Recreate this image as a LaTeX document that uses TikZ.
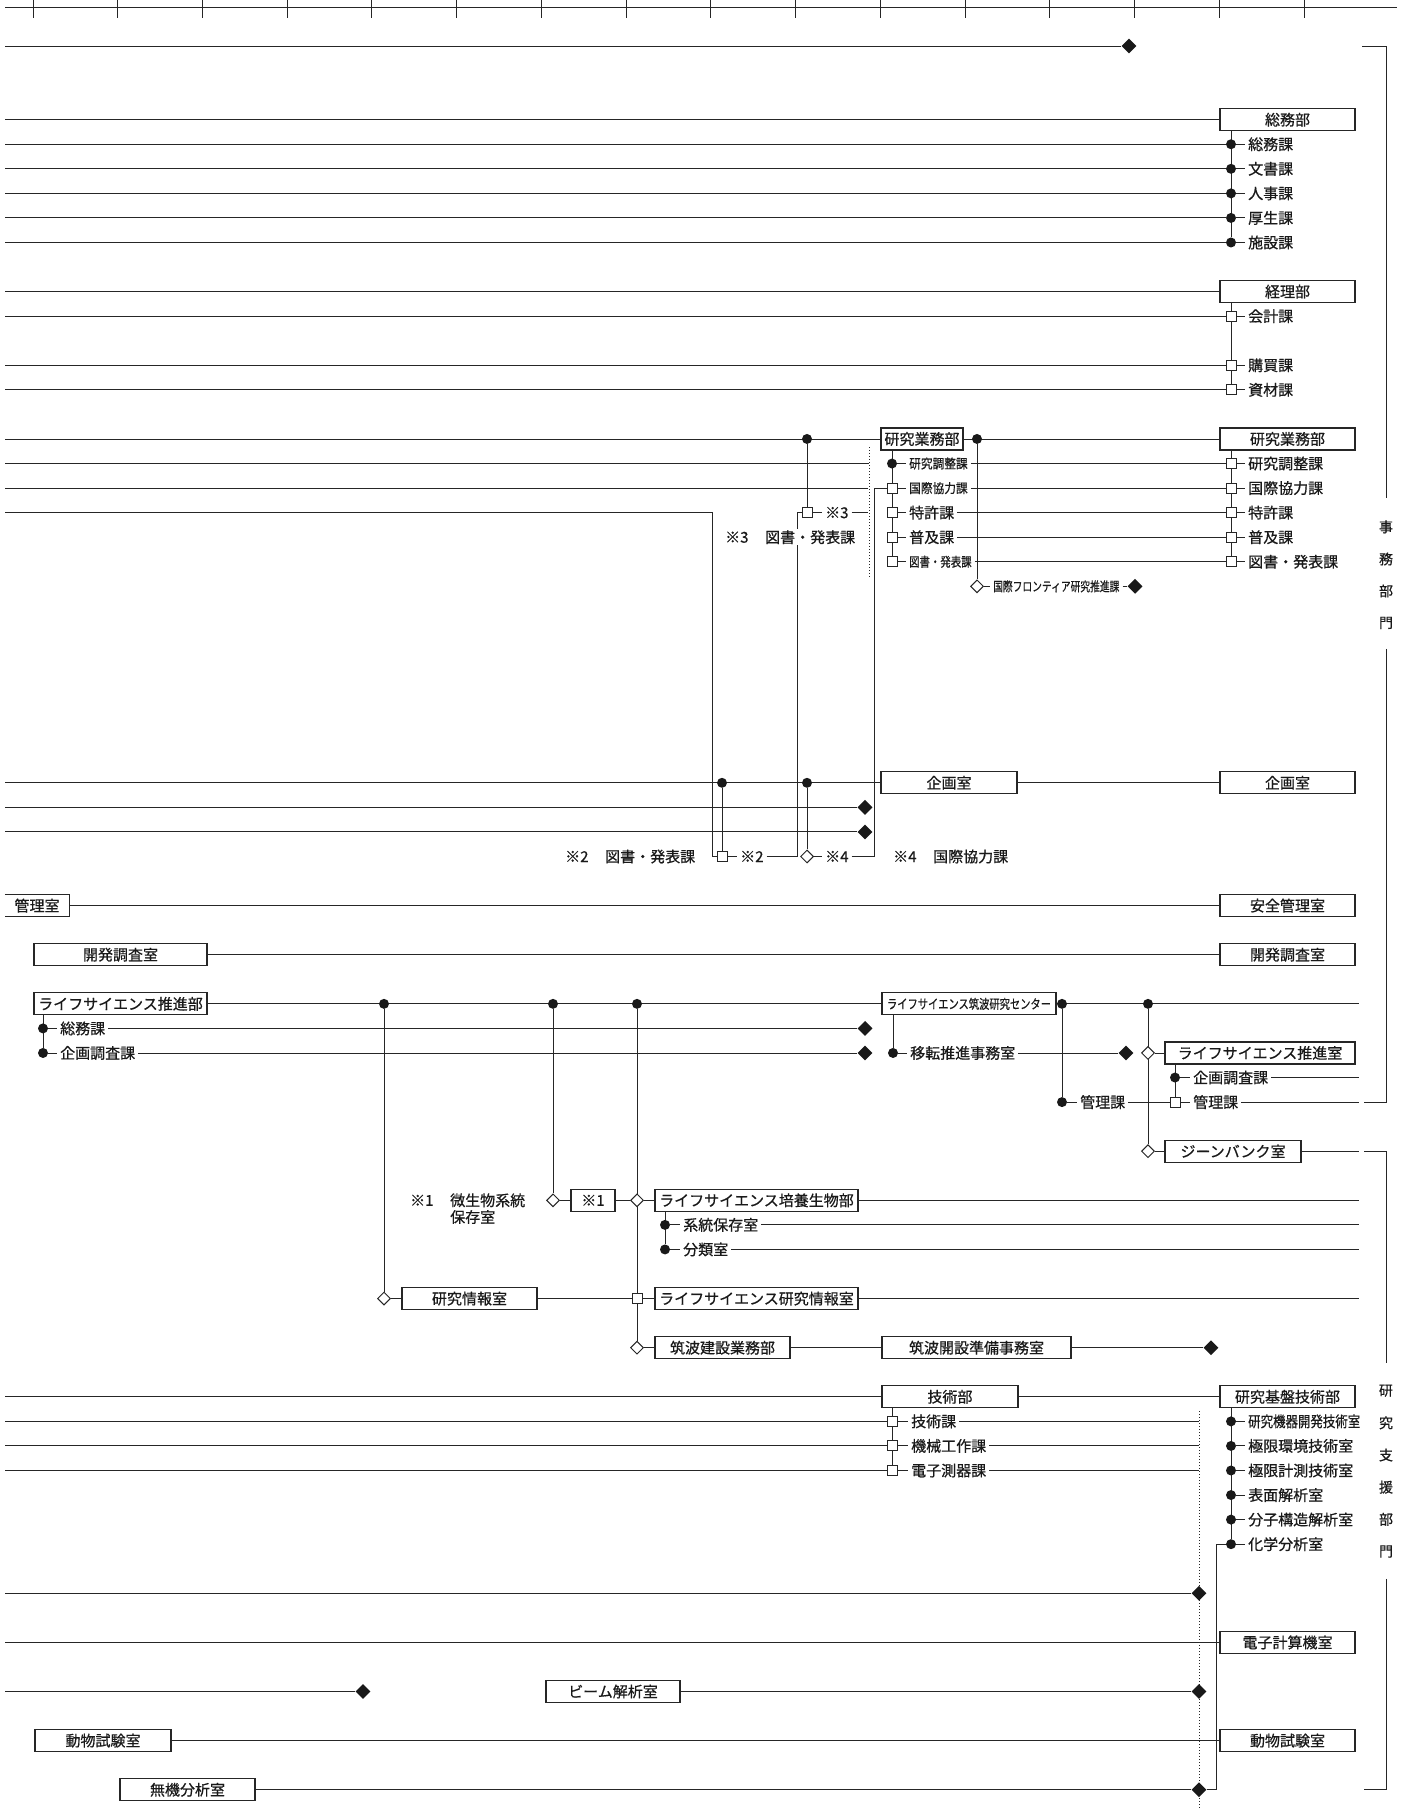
\documentclass[tikz,border=0pt]{standalone}
\usepackage{fontspec}
\setmainfont{Noto Sans CJK JP}[FakeBold=0.6]
\usepackage{graphicx}
\usetikzlibrary{shapes.geometric,backgrounds}
\newcommand{\sx}[2]{\scalebox{#1}[1]{#2}}
\newcommand{\myfont}{\fontsize{15}{18}\selectfont}
\newcommand{\mysmall}{\fontsize{13}{15}\selectfont}
\begin{document}
\begin{tikzpicture}[x=1pt,y=-24.56pt,
  ln/.style={line width=0.9pt, draw=black!85},
  bxl/.style={line width=1.2pt, draw=black!85},
  bx/.style={draw=black!85, line width=1.2pt, minimum height=22pt, inner sep=0pt, font=\myfont, text=black!90},
  rb/.style={bx, minimum width=135pt},
  lb/.style={anchor=west, inner sep=3pt, font=\myfont, text=black!90},
  sm/.style={anchor=west, inner sep=3pt, font=\mysmall, text=black!90},
  txt/.style={anchor=west, inner sep=0pt, font=\myfont, text=black!90},
  dotm/.style={circle, fill=black!90, inner sep=0pt, minimum size=10pt},
  jn/.style={circle, fill=black!90, inner sep=0pt, minimum size=10pt},
  sqm/.style={rectangle, draw=black!85, line width=1pt, fill=white, inner sep=0pt, minimum size=10pt},
  odm/.style={diamond, draw=black!85, line width=1pt, fill=white, inner sep=0pt, minimum size=13pt},
  fdm/.style={diamond, fill=black!90, inner sep=0pt, minimum width=15pt, minimum height=15pt},
  vt/.style={inner sep=0pt, font=\fontsize{14}{16}\selectfont, text=black!90},
  dts/.style={line width=0.9pt, draw=black!85, dash pattern=on 1.2pt off 1.8pt},
]
\useasboundingbox (0,-1.873) rectangle (1405,71.824);

% left edge coordinates
\foreach \k in {0,3,4,5,6,7,8,10,11,13,14,16,17,18,19,30,31,32,55,56,57,58,63,65,67}
  \coordinate (L\k) at (5,\k);
% right ends
\foreach \k in {39,42,43,45,47,48,49,51}
  \coordinate (E\k) at (1359,\k);

% row 0
\node[fdm] (d0) at (1129,0) {};

% right column
\node[rb] (somubu) at (1287.5,3) {総務部};
\foreach \k/\t in {4/総務課,5/文書課,6/人事課,7/厚生課,8/施設課}
  {\node[dotm] (R\k) at (1231,\k) {}; \node[lb] (RT\k) at (1245,\k) {\t};}
\node[rb] (keiri) at (1287.5,10) {経理部};
\foreach \k/\t in {11/会計課,13/購買課,14/資材課}
  {\node[sqm] (R\k) at (1231,\k) {}; \node[lb] (RT\k) at (1245,\k) {\t};}
\node[rb] (kg2) at (1287.5,16) {研究業務部};
\foreach \k/\t in {17/研究調整課,18/国際協力課,19/特許課,20/普及課,21/図書・発表課}
  {\node[sqm] (R\k) at (1231,\k) {}; \node[lb] (RT\k) at (1245,\k) {\t};}

% left research affairs group
\node[bx, minimum width=82pt] (kg1) at (922,16) {研究業務部};
\node[jn] (j807a) at (807,16) {};
\node[jn] (j977) at (977,16) {};
\node[dotm] (M17) at (892,17) {};
\node[sm] (MT17) at (906,17) {\sx{0.9}{研究調整課}};
\node[sqm] (M18) at (892,18) {};
\node[sm] (MT18) at (906,18) {\sx{0.9}{国際協力課}};
\node[sqm] (M19) at (892,19) {};
\node[lb] (MT19) at (906,19) {特許課};
\node[sqm] (M20) at (892,20) {};
\node[lb] (MT20) at (906,20) {普及課};
\node[sqm] (M21) at (892,21) {};
\node[sm] (MT21) at (906,21) {\sx{0.8}{図書・発表課}};
\coordinate (D17) at (869,17);
\coordinate (D18) at (868,18);
\node[sqm] (s3) at (807,19) {};
\node[lb] (s3l) at (822,19) {※3};
\coordinate (D19) at (868,19);
\node[txt] (n3a) at (725,20) {※3};
\node[txt, fill=white, inner sep=1pt] (n3b) at (764,20) {図書・発表課};
\node[odm] (o22) at (977,22) {};
\node[sm] (t22) at (990,22) {\sx{0.75}{国際フロンティア研究推進課}};
\node[fdm] (f22) at (1135,22) {};

% planning
\node[bx, minimum width=136pt] (kk1) at (949,30) {企画室};
\node[rb] (kk2) at (1287.5,30) {企画室};
\node[jn] (j722) at (722,30) {};
\node[jn] (j807b) at (807,30) {};
\node[fdm] (f31) at (865,31) {};
\node[fdm] (f32) at (865,32) {};
\node[txt] (n2a) at (565,33) {※2};
\node[txt] (n2b) at (605,33) {図書・発表課};
\node[sqm] (s2) at (722,33) {};
\node[lb] (s2l) at (737,33) {※2};
\node[odm] (o4) at (807,33) {};
\node[lb] (o4l) at (822,33) {※4};
\node[txt] (n4a) at (893,33) {※4};
\node[txt] (n4b) at (933,33) {国際協力課};
\coordinate (c712) at (712,33);
\coordinate (c797) at (797,19);
\coordinate (c874) at (874,18);

% rows 35-37
\node[inner sep=0pt, minimum width=64pt, minimum height=22pt, font=\myfont, text=black!90] (kanri) at (37,35) {管理室};
\node[rb] (anzen) at (1287.5,35) {安全管理室};
\node[bx, minimum width=173pt] (kh1) at (120.5,37) {開発調査室};
\node[rb] (kh2) at (1287.5,37) {開発調査室};

% life science
\node[bx, minimum width=173pt] (lsb) at (120.5,39) {ライフサイエンス推進部};
\node[jn] (j384) at (384,39) {};
\node[jn] (j553) at (553,39) {};
\node[jn] (j637) at (637,39) {};
\node[bx, minimum width=174pt, font=\mysmall] (lst) at (969,39) {\sx{0.79}{ライフサイエンス筑波研究センター}};
\node[jn] (j1062) at (1062,39) {};
\node[jn] (j1148) at (1148,39) {};
\node[dotm] (a40) at (43,40) {};
\node[lb] (at40) at (57,40) {総務課};
\node[fdm] (f40) at (865,40) {};
\node[dotm] (a41) at (43,41) {};
\node[lb] (at41) at (57,41) {企画調査課};
\node[fdm] (f41) at (865,41) {};
\node[dotm] (b41) at (893,41) {};
\node[lb] (bt41) at (907,41) {移転推進事務室};
\node[fdm] (f41b) at (1126,41) {};
\node[odm] (o41) at (1148,41) {};
\node[bx, minimum width=190pt] (lss) at (1260,41) {ライフサイエンス推進室};
\node[dotm] (c42) at (1175,42) {};
\node[lb] (ct42) at (1190,42) {企画調査課};
\node[dotm] (k43) at (1062,43) {};
\node[lb] (kt43) at (1077,43) {管理課};
\node[sqm] (c43) at (1175,43) {};
\node[lb] (ct43) at (1190,43) {管理課};
\node[odm] (o45) at (1148,45) {};
\node[bx, minimum width=136pt] (gene) at (1233,45) {ジーンバンク室};

\node[txt] (x1a) at (410,47) {※1};
\node[txt] (x1b) at (450,47) {微生物系統};
\node[txt] (x1c) at (450,47.68) {保存室};
\node[odm] (o553) at (553,47) {};
\node[bx, minimum width=44pt] (x1box) at (593,47) {※1};
\node[odm] (o637) at (637,47) {};
\node[bx, minimum width=203pt] (lsbai) at (756.5,47) {ライフサイエンス培養生物部};
\node[dotm] (g48) at (665,48) {};
\node[lb] (gt48) at (680,48) {系統保存室};
\node[dotm] (g49) at (665,49) {};
\node[lb] (gt49) at (680,49) {分類室};
\node[odm] (o384) at (384,51) {};
\node[bx, minimum width=135pt] (kjh) at (469.5,51) {研究情報室};
\node[sqm] (s637) at (637,51) {};
\node[bx, minimum width=203pt] (lskj) at (756.5,51) {ライフサイエンス研究情報室};
\node[odm] (o53) at (637,53) {};
\node[bx, minimum width=135pt] (tkg) at (722.5,53) {筑波建設業務部};
\node[bx, minimum width=189pt] (tkj) at (976.5,53) {筑波開設準備事務室};
\node[fdm] (f53) at (1211,53) {};

% technology
\node[bx, minimum width=136pt] (gjb) at (950,55) {技術部};
\node[rb] (kkb) at (1287.5,55) {研究基盤技術部};
\foreach \k/\t in {56/技術課,57/機械工作課,58/電子測器課}
  {\node[sqm] (Q\k) at (892,\k) {}; \node[lb] (QT\k) at (908,\k) {\t}; \coordinate (D\k) at (1199,\k);}
\node[dotm] (R56) at (1231,56) {};
\node[lb] (RT56) at (1245,56) {\sx{0.83}{研究機器開発技術室}};
\foreach \k/\t in {57/極限環境技術室,58/極限計測技術室,59/表面解析室,60/分子構造解析室,61/化学分析室}
  {\node[dotm] (R\k) at (1231,\k) {}; \node[lb] (RT\k) at (1245,\k) {\t};}
\node[fdm] (f63) at (1199,63) {};
\node[rb] (dk) at (1287.5,65) {電子計算機室};
\node[fdm] (f67a) at (363,67) {};
\node[bx, minimum width=134pt] (beam) at (613,67) {ビーム解析室};
\node[fdm] (f67) at (1199,67) {};
\node[bx, minimum width=136pt] (db1) at (103,69) {動物試験室};
\node[rb] (db2) at (1287.5,69) {動物試験室};
\node[bx, minimum width=135pt] (muki) at (187.5,71) {無機分析室};
\node[fdm] (f71) at (1199,71) {};
\coordinate (c1216) at (1216,71);

% bracket texts
\foreach \c/\y [count=\i] in {事/19.58,務/20.89,部/22.19,門/23.49}
  \node[vt] (VA\i) at (1386,\y) {\c};
\foreach \c/\y [count=\i] in {研/54.75,究/56.06,支/57.37,援/58.68,部/59.99,門/61.30}
  \node[vt] (VB\i) at (1386,\y) {\c};

\begin{pgfonlayer}{background}
\fill[white] (0,-1.873) rectangle (1405,71.824);
% ruler
\draw[ln, line width=1.2pt] (5,-1.576) -- (1397,-1.576);
\foreach \i in {0,...,15}
  \draw[ln] (33+84.73*\i,-1.873) -- (33+84.73*\i,-1.14);
% brackets
\draw[ln] (1362,0) -- (1386,0) -- (1386,18.40);
\draw[ln] (1386,24.55) -- (1386,43) -- (1364,43);
\draw[ln] (1364,45) -- (1386,45) -- (1386,53.62);
\draw[ln] (1386,62.41) -- (1386,71) -- (1364,71);

\draw[ln] (L0) -- (d0);
% right column
\draw[ln] (L3) -- (somubu);
\draw[ln] (L10) -- (keiri);
\foreach \k in {4,5,6,7,8,11,13,14}
  \draw[ln] (L\k) -- (R\k);
\foreach \k in {4,5,6,7,8,11,13,14,17,18,19,20,21,56,57,58,59,60,61}
  \draw[ln] (R\k) -- (RT\k);
\draw[ln] (R4 |- somubu.south) -- (R8);
\draw[ln] (R11 |- keiri.south) -- (R14);
\draw[ln] (R17 |- kg2.south) -- (R21);
\draw[ln] (R56 |- kkb.south) -- (R61);

% research affairs
\draw[ln] (L16) -- (kg1);
\draw[ln] (kg1) -- (kg2);
\draw[ln] (M17 |- kg1.south) -- (M21);
\foreach \k in {17,...,21}
  {\draw[ln] (M\k) -- (MT\k); \draw[ln] (MT\k) -- (R\k);}
\draw[ln] (L17) -- (D17);
\draw[ln] (L18) -- (D18);
\draw[dts] (869,16.33) -- (869,21.66);
\draw[ln] (j807a) -- (s3);
\draw[ln] (s3) -- (s3l);
\draw[ln] (s3l) -- (D19);
\draw[ln] (j977) -- (o22);
\draw[ln] (o22) -- (t22);
\draw[ln] (t22) -- (f22);

% planning
\draw[ln] (L30) -- (kk1);
\draw[ln] (kk1) -- (kk2);
\draw[ln] (L31) -- (f31);
\draw[ln] (L32) -- (f32);
\draw[ln] (j722) -- (s2);
\draw[ln] (j807b) -- (o4);
\draw[ln] (s2) -- (s2l);
\draw[ln] (o4) -- (o4l);
\draw[ln] (s2l.east) -| (c797) -- (s3.west);
\draw[ln] (o4l.east) -| (c874) -- (M18.west);
\draw[ln] (L19) -| (c712) -- (s2.west);

% rows 35-37
\draw[bxl] (kanri.north west) -- (kanri.north east) -- (kanri.south east) -- (kanri.south west);
\draw[ln] (kanri.east) -- (anzen);
\draw[ln] (kh1) -- (kh2);

% life science
\draw[ln] (lsb) -- (lst);
\draw[ln] (lst) -- (E39);
\draw[ln] (a40 |- lsb.south) -- (a41);
\draw[ln] (a40) -- (at40);
\draw[ln] (at40) -- (f40);
\draw[ln] (a41) -- (at41);
\draw[ln] (at41) -- (f41);
\draw[ln] (b41 |- lst.south) -- (b41);
\draw[ln] (b41) -- (bt41);
\draw[ln] (bt41) -- (f41b);
\draw[ln] (j1148) -- (o45);
\draw[ln] (o41) -- (lss);
\draw[ln] (c42 |- lss.south) -- (c43);
\draw[ln] (c42) -- (ct42);
\draw[ln] (ct42) -- (E42);
\draw[ln] (j1062) -- (k43);
\draw[ln] (k43) -- (kt43);
\draw[ln] (kt43) -- (c43);
\draw[ln] (c43) -- (ct43);
\draw[ln] (ct43) -- (E43);
\draw[ln] (o45) -- (gene);
\draw[ln] (gene) -- (E45);

\draw[ln] (j553) -- (o553);
\draw[ln] (o553) -- (x1box);
\draw[ln] (x1box) -- (o637);
\draw[ln] (o637) -- (lsbai);
\draw[ln] (lsbai) -- (E47);
\draw[ln] (j637) -- (o53);
\draw[ln] (g48 |- lsbai.south) -- (g49);
\draw[ln] (g48) -- (gt48);
\draw[ln] (gt48) -- (E48);
\draw[ln] (g49) -- (gt49);
\draw[ln] (gt49) -- (E49);
\draw[ln] (j384) -- (o384);
\draw[ln] (o384) -- (kjh);
\draw[ln] (kjh) -- (s637);
\draw[ln] (s637) -- (lskj);
\draw[ln] (lskj) -- (E51);
\draw[ln] (o53) -- (tkg);
\draw[ln] (tkg) -- (tkj);
\draw[ln] (tkj) -- (f53);

% technology
\draw[ln] (L55) -- (gjb);
\draw[ln] (gjb) -- (kkb);
\draw[ln] (Q56 |- gjb.south) -- (Q58);
\foreach \k in {56,57,58}
  {\draw[ln] (L\k) -- (Q\k); \draw[ln] (Q\k) -- (QT\k); \draw[ln] (QT\k) -- (D\k);}
\draw[dts] (1199,55.58) -- (1199,71.824);
\draw[ln] (L63) -- (f63);
\draw[ln] (L65) -- (dk);
\draw[ln] (L67) -- (f67a);
\draw[ln] (beam) -- (f67);
\draw[ln] (db1) -- (db2);
\draw[ln] (muki) -- (f71);
\draw[ln] (f71) -- (c1216);
\draw[ln] (c1216) |- (R61);
\end{pgfonlayer}
\end{tikzpicture}
\end{document}
